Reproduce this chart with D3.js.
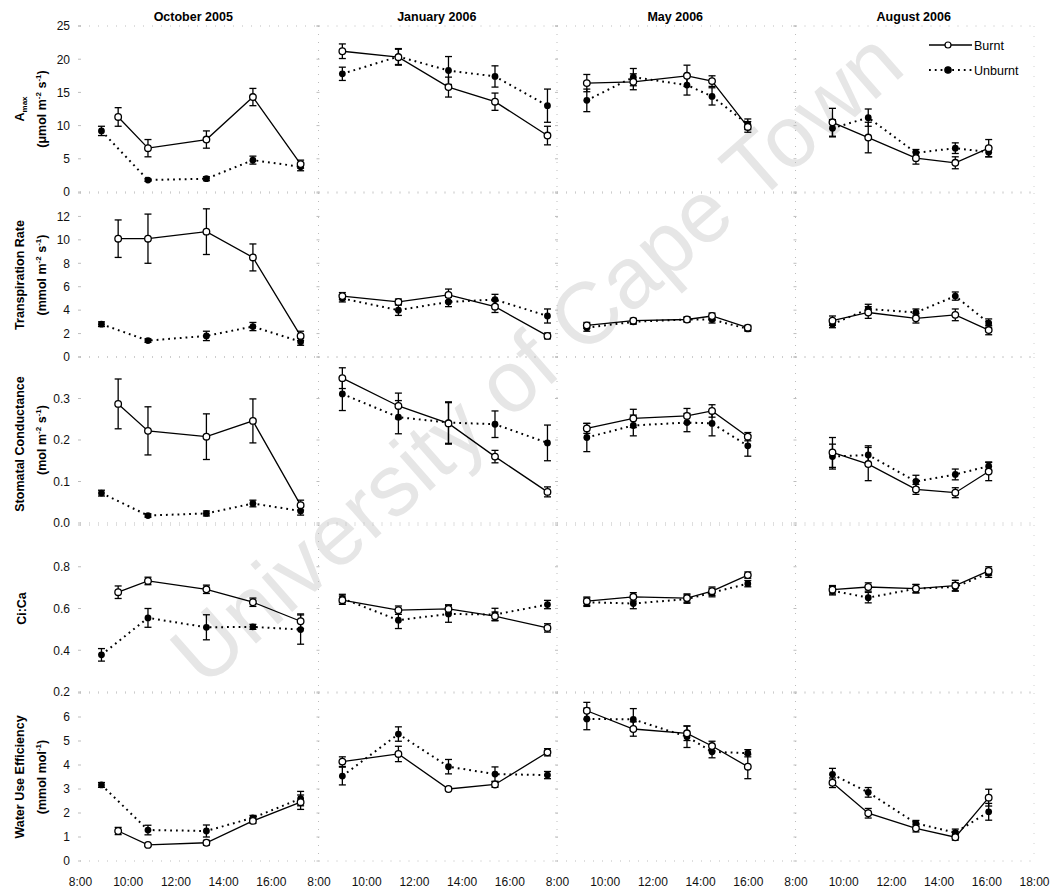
<!DOCTYPE html>
<html>
<head>
<meta charset="utf-8">
<script src="https://cdn.jsdelivr.net/npm/d3@7"></script>
<style>
  html, body { margin: 0; padding: 0; background: #fff; }
  svg { display: block; font-family: "Liberation Sans", Arial, sans-serif; }
</style>
</head>
<body>
<svg id="chart" width="1055" height="889"></svg>
<script>
// Sampling campaigns (one column of panels each)
const campaigns = ["October 2005", "January 2006", "May 2006", "August 2006"];
const hourTicks = [8, 10, 12, 14, 16];
const lastHourTicks = [8, 10, 12, 14, 16, 18];

// Measurement times (decimal hours) per campaign
const burntTime = [
  [9.6, 10.85, 13.3, 15.25, 17.25],
  [9.0, 11.35, 13.45, 15.4, 17.6],
  [9.25, 11.2, 13.45, 14.5, 16.0],
  [9.55, 11.05, 13.05, 14.7, 16.1]
];
const unburntTime = [
  [8.9, 10.85, 13.3, 15.25, 17.25],
  [9.0, 11.35, 13.45, 15.4, 17.6],
  [9.25, 11.2, 13.45, 14.5, 16.0],
  [9.55, 11.05, 13.05, 14.7, 16.1]
];

// Amax (µmol m-2 s-1)
const amaxBurnt = [[11.3, 6.6, 7.9, 14.3, 4.2], [21.2, 20.3, 15.8, 13.6, 8.5], [16.4, 16.6, 17.5, 16.7, 9.8], [10.5, 8.2, 5.1, 4.4, 6.6]];
const amaxBurntSE = [[1.4, 1.3, 1.3, 1.3, 0.6], [1.1, 1.2, 1.5, 1.3, 1.4], [1.3, 1.2, 1.6, 0.8, 0.8], [2.1, 2.3, 0.9, 0.9, 1.3]];
const amaxUnburnt = [[9.2, 1.8, 2.0, 4.8, 3.8], [17.8, 20.4, 18.3, 17.4, 13.0], [13.8, 17.3, 16.1, 14.4, 10.2], [9.6, 11.2, 5.9, 6.6, 6.0]];
const amaxUnburntSE = [[0.7, 0.2, 0.3, 0.6, 0.6], [1.0, 1.2, 2.1, 1.6, 2.5], [1.7, 1.3, 1.5, 1.3, 0.8], [1.3, 1.3, 0.5, 0.8, 0.7]];

// Transpiration rate (mmol m-2 s-1)
const transBurnt = [[10.1, 10.1, 10.7, 8.5, 1.8], [5.2, 4.7, 5.3, 4.3, 1.8], [2.7, 3.1, 3.2, 3.5, 2.5], [3.1, 3.8, 3.3, 3.6, 2.3]];
const transBurntSE = [[1.6, 2.1, 1.95, 1.15, 0.4], [0.3, 0.25, 0.5, 0.5, 0.25], [0.25, 0.2, 0.2, 0.25, 0.2], [0.4, 0.5, 0.4, 0.5, 0.4]];
const transUnburnt = [[2.8, 1.4, 1.8, 2.6, 1.3], [5.0, 4.0, 4.7, 4.9, 3.5], [2.5, 3.0, 3.2, 3.2, 2.4], [2.8, 4.1, 3.8, 5.2, 2.9]];
const transUnburntSE = [[0.2, 0.15, 0.4, 0.35, 0.3], [0.3, 0.45, 0.4, 0.45, 0.6], [0.3, 0.2, 0.2, 0.3, 0.2], [0.3, 0.4, 0.3, 0.35, 0.35]];

// Stomatal conductance (mol m-2 s-1)
const gsBurnt = [[0.287, 0.222, 0.208, 0.246, 0.043], [0.349, 0.282, 0.240, 0.160, 0.075], [0.228, 0.252, 0.258, 0.270, 0.208], [0.170, 0.142, 0.081, 0.073, 0.124]];
const gsBurntSE = [[0.06, 0.058, 0.055, 0.053, 0.012], [0.025, 0.031, 0.05, 0.015, 0.012], [0.012, 0.022, 0.018, 0.015, 0.01], [0.036, 0.04, 0.012, 0.012, 0.022]];
const gsUnburnt = [[0.072, 0.018, 0.023, 0.047, 0.029], [0.311, 0.255, 0.242, 0.238, 0.193], [0.206, 0.235, 0.242, 0.240, 0.186], [0.160, 0.164, 0.100, 0.117, 0.137]];
const gsUnburntSE = [[0.007, 0.004, 0.006, 0.008, 0.01], [0.04, 0.04, 0.05, 0.032, 0.043], [0.034, 0.025, 0.022, 0.03, 0.025], [0.03, 0.022, 0.015, 0.013, 0.01]];

// Ci:Ca ratio
const ciBurnt = [[0.678, 0.732, 0.692, 0.630, 0.539], [0.640, 0.592, 0.598, 0.563, 0.507], [0.635, 0.656, 0.650, 0.683, 0.760], [0.690, 0.703, 0.695, 0.710, 0.780]];
const ciBurntSE = [[0.03, 0.018, 0.02, 0.02, 0.035], [0.02, 0.02, 0.02, 0.02, 0.02], [0.02, 0.02, 0.02, 0.02, 0.015], [0.02, 0.02, 0.02, 0.025, 0.02]];
const ciUnburnt = [[0.378, 0.555, 0.510, 0.512, 0.499], [0.648, 0.544, 0.574, 0.571, 0.619], [0.630, 0.624, 0.645, 0.676, 0.719], [0.685, 0.652, 0.695, 0.703, 0.769]];
const ciUnburntSE = [[0.03, 0.045, 0.06, 0.012, 0.07], [0.02, 0.04, 0.04, 0.03, 0.02], [0.02, 0.025, 0.02, 0.02, 0.015], [0.02, 0.025, 0.02, 0.02, 0.02]];

// Water use efficiency (mmol mol-1)
const wueBurnt = [[1.25, 0.67, 0.76, 1.67, 2.45], [4.14, 4.46, 3.0, 3.19, 4.53], [6.26, 5.5, 5.32, 4.79, 3.93], [3.26, 1.99, 1.36, 0.99, 2.64]];
const wueBurntSE = [[0.15, 0.05, 0.1, 0.1, 0.3], [0.2, 0.32, 0.06, 0.12, 0.15], [0.35, 0.3, 0.3, 0.2, 0.5], [0.2, 0.2, 0.15, 0.12, 0.35]];
const wueUnburnt = [[3.17, 1.29, 1.25, 1.8, 2.6], [3.54, 5.29, 3.93, 3.62, 3.58], [5.92, 5.9, 5.18, 4.55, 4.49], [3.61, 2.86, 1.57, 1.18, 2.05]];
const wueUnburntSE = [[0.1, 0.2, 0.25, 0.1, 0.3], [0.37, 0.3, 0.3, 0.3, 0.15], [0.45, 0.45, 0.45, 0.25, 0.15], [0.25, 0.2, 0.12, 0.15, 0.35]];

// Axis ticks per variable
const amaxTicks = [0, 5, 10, 15, 20, 25];
const transTicks = [0, 2, 4, 6, 8, 10, 12];
const gsTicks = [0, 0.1, 0.2, 0.3];
const ciTicks = [0.2, 0.4, 0.6, 0.8];
const wueTicks = [0, 1, 2, 3, 4, 5, 6];

const seriesNames = ["Burnt", "Unburnt"];

// ---- layout ----
const X0 = 80, PW = 238.5;
const rows = [
  { top: 26,  bottom: 192, domain: [0, 25],   ticks: amaxTicks,  fmt: d3.format("d"),
    b: amaxBurnt, bse: amaxBurntSE, u: amaxUnburnt, use: amaxUnburntSE },
  { top: 193, bottom: 357, domain: [0, 14],   ticks: transTicks, fmt: d3.format("d"),
    b: transBurnt, bse: transBurntSE, u: transUnburnt, use: transUnburntSE },
  { top: 357, bottom: 523, domain: [0, 0.4],  ticks: gsTicks,    fmt: d3.format(".1f"),
    b: gsBurnt, bse: gsBurntSE, u: gsUnburnt, use: gsUnburntSE },
  { top: 525, bottom: 692, domain: [0.2, 1.0], ticks: ciTicks,   fmt: d3.format(".1f"),
    b: ciBurnt, bse: ciBurntSE, u: ciUnburnt, use: ciUnburntSE },
  { top: 693, bottom: 861, domain: [0, 7],    ticks: wueTicks,   fmt: d3.format("d"),
    b: wueBurnt, bse: wueBurntSE, u: wueUnburnt, use: wueUnburntSE }
];

const svg = d3.select("#chart");

// faint watermark text across the figure
svg.append("text")
  .attr("transform", "translate(556,380) rotate(-41.3)")
  .attr("text-anchor", "middle")
  .attr("font-size", 87)
  .attr("fill", "#e6e6e6")
  .text("University of Cape Town");

const xScales = campaigns.map((c, i) =>
  d3.scaleLinear().domain([8, 18]).range([X0 + i * PW, X0 + (i + 1) * PW]));

const gridColor = "#bdbdbd";

// campaign titles
campaigns.forEach((c, i) => {
  const x = xScales[i];
  svg.append("text")
    .attr("x", (x.range()[0] + x.range()[1]) / 2 - (i === 0 ? 6 : 1))
    .attr("y", 21)
    .attr("text-anchor", "middle")
    .attr("font-size", 12.5)
    .attr("font-weight", "bold")
    .text(c);
});

rows.forEach((r, ri) => {
  const y = d3.scaleLinear().domain(r.domain).range([r.bottom, r.top]);
  const g = svg.append("g");

  campaigns.forEach((c, pi) => {
    const x = xScales[pi];
    const [xa, xb] = x.range();

    // faint dotted frame of each sub-plot
    g.append("line").attr("x1", xa).attr("x2", xb).attr("y1", r.top).attr("y2", r.top)
      .attr("stroke", gridColor).attr("stroke-dasharray", "1,8");
    g.append("line").attr("x1", xa).attr("x2", xb).attr("y1", r.bottom).attr("y2", r.bottom)
      .attr("stroke", gridColor).attr("stroke-dasharray", "1,8");
    if (pi > 0) {
      g.append("line").attr("x1", xa).attr("x2", xa).attr("y1", r.top).attr("y2", r.bottom)
        .attr("stroke", gridColor).attr("stroke-dasharray", "1,7");
    }
    if (pi === campaigns.length - 1) {
      g.append("line").attr("x1", xb).attr("x2", xb).attr("y1", r.top).attr("y2", r.bottom)
        .attr("stroke", "#d0d0d0").attr("stroke-dasharray", "1,9");
    }
    // small y tick marks on every sub-plot
    g.selectAll(null).data(r.ticks.concat([r.domain[1]])).enter().append("line")
      .attr("x1", xa - 2).attr("x2", xa + 1)
      .attr("y1", d => y(d)).attr("y2", d => y(d))
      .attr("stroke", gridColor);

    // series
    const sets = [
      { t: burntTime[pi], v: r.b[pi], e: r.bse[pi], solid: true },
      { t: unburntTime[pi], v: r.u[pi], e: r.use[pi], solid: false }
    ];
    const line = d3.line().x(d => x(d[0])).y(d => y(d[1]));

    sets.forEach(s => {
      const pts = s.t.map((t, k) => [t, s.v[k], s.e[k]]);
      g.append("path").datum(pts)
        .attr("d", line)
        .attr("fill", "none")
        .attr("stroke", "#000")
        .attr("stroke-width", s.solid ? 1.3 : 2)
        .attr("stroke-dasharray", s.solid ? null : "1.8,4");
    });

    sets.forEach(s => {
      const pts = s.t.map((t, k) => [t, s.v[k], s.e[k]]);
      const eb = g.selectAll(null).data(pts).enter().append("g");
      eb.append("line")
        .attr("x1", d => x(d[0])).attr("x2", d => x(d[0]))
        .attr("y1", d => y(d[1] - d[2])).attr("y2", d => y(d[1] + d[2]))
        .attr("stroke", "#000").attr("stroke-width", 1.3);
      [1, -1].forEach(sign => {
        eb.append("line")
          .attr("x1", d => x(d[0]) - 3.5).attr("x2", d => x(d[0]) + 3.5)
          .attr("y1", d => y(d[1] + sign * d[2])).attr("y2", d => y(d[1] + sign * d[2]))
          .attr("stroke", "#000").attr("stroke-width", 1.3);
      });
    });

    // unburnt (filled) markers then burnt (open) markers
    g.selectAll(null).data(sets[1].t.map((t, k) => [t, sets[1].v[k]])).enter().append("circle")
      .attr("cx", d => x(d[0])).attr("cy", d => y(d[1])).attr("r", 3.4)
      .attr("fill", "#000");
    g.selectAll(null).data(sets[0].t.map((t, k) => [t, sets[0].v[k]])).enter().append("circle")
      .attr("cx", d => x(d[0])).attr("cy", d => y(d[1])).attr("r", 3.3)
      .attr("fill", "#fff").attr("stroke", "#000").attr("stroke-width", 1.3);
  });

  // y axis labels on the first column
  const axis = d3.axisLeft(y).tickValues(r.ticks).tickFormat(r.fmt).tickSize(0).tickPadding(10);
  const ag = svg.append("g").attr("transform", `translate(${X0},0)`).call(axis);
  ag.select(".domain").remove();
  ag.selectAll("text").attr("font-size", 12).attr("font-family", "Liberation Sans, Arial, sans-serif").attr("fill", "#111");
});

// x axis labels under the bottom row
const lastRow = rows[rows.length - 1];
campaigns.forEach((c, i) => {
  const ticks = i === campaigns.length - 1 ? lastHourTicks : hourTicks;
  const ax = d3.axisBottom(xScales[i]).tickValues(ticks).tickFormat(d => d + ":00").tickSize(0).tickPadding(16);
  const g = svg.append("g").attr("transform", `translate(0,${lastRow.bottom})`).call(ax);
  g.select(".domain").remove();
  g.selectAll("text").attr("font-size", 12).attr("font-family", "Liberation Sans, Arial, sans-serif").attr("fill", "#111");
});

// y axis titles
function addTitle(cx, cy, build) {
  const t = svg.append("text")
    .attr("transform", `translate(${cx},${cy}) rotate(-90)`)
    .attr("text-anchor", "middle")
    .attr("font-size", 12.5)
    .attr("font-weight", "bold");
  build(t);
}
function unitLine(t, parts) {
  // parts: array of [text, isSuperscript]
  parts.forEach(([s, sup], k) => {
    const ts = t.append("tspan").text(s);
    if (sup) ts.attr("font-size", 8).attr("dy", -5);
    else if (k > 0 && parts[k - 1][1]) ts.attr("dy", 5);
  });
}
const rowMid = r => (r.top + r.bottom) / 2;

addTitle(24, rowMid(rows[0]), t => {
  t.append("tspan").text("A");
  t.append("tspan").text("max").attr("font-size", 8).attr("dy", 3);
});
addTitle(46, rowMid(rows[0]), t => unitLine(t, [["(μmol m", 0], ["-2", 1], [" s", 0], ["-1", 1], [")", 0]]));

addTitle(24, rowMid(rows[1]), t => t.text("Transpiration Rate"));
addTitle(46, rowMid(rows[1]), t => unitLine(t, [["(mmol m", 0], ["-2", 1], [" s", 0], ["-1", 1], [")", 0]]));

addTitle(24, rowMid(rows[2]) + 4, t => t.text("Stomatal Conductance"));
addTitle(46, rowMid(rows[2]), t => unitLine(t, [["(mol m", 0], ["-2", 1], [" s", 0], ["-1", 1], [")", 0]]));

addTitle(26, rowMid(rows[3]), t => t.text("Ci:Ca"));

addTitle(24, rowMid(rows[4]), t => t.text("Water Use Efficiency"));
addTitle(46, rowMid(rows[4]), t => unitLine(t, [["(mmol mol", 0], ["-1", 1], [")", 0]]));

// legend
const lg = svg.append("g");
seriesNames.forEach((name, i) => {
  const yy = 45 + i * 25;
  lg.append("line").attr("x1", 929).attr("x2", 972).attr("y1", yy).attr("y2", yy)
    .attr("stroke", "#000")
    .attr("stroke-width", i === 0 ? 1.3 : 2)
    .attr("stroke-dasharray", i === 0 ? null : "1.8,4");
  lg.append("circle").attr("cx", 948).attr("cy", yy).attr("r", i === 0 ? 3 : 3.2)
    .attr("fill", i === 0 ? "#fff" : "#000")
    .attr("stroke", "#000").attr("stroke-width", 1.2);
  lg.append("text").attr("x", 974).attr("y", yy + 4.5)
    .attr("font-size", 12.5).text(name);
});
</script>
</body>
</html>
